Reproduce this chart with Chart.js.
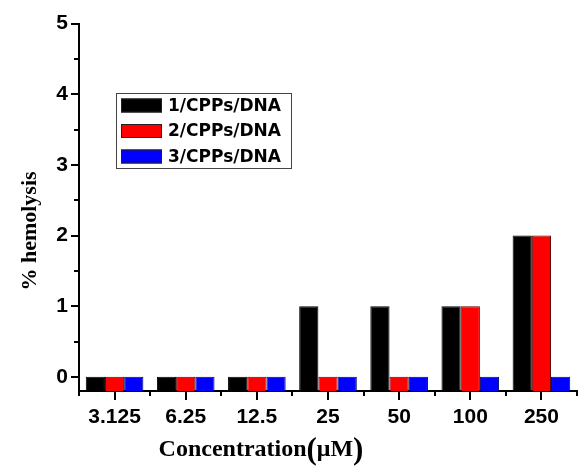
<!DOCTYPE html>
<html>
<head>
<meta charset="utf-8">
<script src="https://cdn.jsdelivr.net/npm/chart.js@4/dist/chart.umd.min.js"></script>
<style>
  body { margin: 0; background: #fff; }
  #wrap { width: 582px; height: 471px; }
</style>
</head>
<body>
<div id="wrap"><canvas id="hemo-chart"></canvas></div>
<script>
// concentrations (uM) and % hemolysis for each complex
var concentrations = ["3.125", "6.25", "12.5", "25", "50", "100", "250"];
var complex1 = [0, 0, 0, 1, 1, 1, 2];
var complex2 = [0, 0, 0, 0, 0, 1, 2];
var complex3 = [0, 0, 0, 0, 0, 0, 0];
var seriesNames = ["1/CPPs/DNA", "2/CPPs/DNA", "3/CPPs/DNA"];
var yTicks = [0, 1, 2, 3, 4, 5];

var yMin = -0.2;

// tick marks, axis titles and the boxed legend
var decorations = {
    id: 'decorations',
    afterDraw: function(chart) {
        var ctx = chart.ctx;
        var area = chart.chartArea;
        var x = chart.scales.x, y = chart.scales.y;
        ctx.save();
        ctx.strokeStyle = '#000';
        ctx.lineWidth = 2;
        ctx.beginPath();
        for (var v = 0; v <= 5; v += 0.5) {
            var py = Math.round(y.getPixelForValue(v));
            var len = (v % 1 === 0) ? 8 : 5;
            ctx.moveTo(area.left - len, py);
            ctx.lineTo(area.left, py);
        }
        for (var i = 0; i < concentrations.length; i++) {
            var px = Math.round(x.getPixelForValue(i));
            ctx.moveTo(px, area.bottom);
            ctx.lineTo(px, area.bottom + 9);
        }
        for (var j = 0; j <= concentrations.length; j++) {
            var bx = Math.round(x.getPixelForValue(j - 0.5));
            ctx.moveTo(bx, area.bottom);
            ctx.lineTo(bx, area.bottom + 5);
        }
        ctx.stroke();

        // y title
        ctx.fillStyle = '#000';
        ctx.textAlign = 'center';
        ctx.textBaseline = 'middle';
        ctx.font = 'bold 22px "Liberation Serif"';
        ctx.save();
        ctx.translate(30, 231);
        ctx.rotate(-Math.PI / 2);
        ctx.fillText('% hemolysis', 0, 0);
        ctx.restore();

        // x title, with taller brackets round the unit
        var parts = [['Concentration', 24], ['(', 31], ['\u03bcM', 24], [')', 31]];
        var total = 0;
        parts.forEach(function(p) {
            ctx.font = 'bold ' + p[1] + 'px "Liberation Serif"';
            total += ctx.measureText(p[0]).width;
        });
        var tx = 261 - total / 2;
        ctx.textAlign = 'left';
        ctx.textBaseline = 'alphabetic';
        parts.forEach(function(p) {
            ctx.font = 'bold ' + p[1] + 'px "Liberation Serif"';
            ctx.fillText(p[0], tx, p[1] > 24 ? 459 : 456);
            tx += ctx.measureText(p[0]).width;
        });

        // legend
        ctx.lineWidth = 1;
        ctx.strokeStyle = '#444';
        ctx.strokeRect(116.5, 93.5, 175, 75);
        ctx.font = 'bold 17px "DejaVu Sans"';
        ctx.textBaseline = 'middle';
        chart.data.datasets.forEach(function(ds, k) {
            var cy = 105.5 + k * 25.5;
            ctx.fillStyle = ds.backgroundColor;
            ctx.fillRect(121, cy - 7, 41, 14);
            ctx.strokeStyle = '#222';
            ctx.strokeRect(121.5, cy - 6.5, 40, 13);
            ctx.fillStyle = '#000';
            ctx.fillText(ds.label, 168, cy + 1);
        });
        ctx.restore();
    }
};

var ctx = document.getElementById('hemo-chart').getContext('2d');
var hemoChart = new Chart(ctx, {
    type: 'bar',
    data: {
        labels: concentrations,
        datasets: [{
            label: seriesNames[0],
            data: complex1,
            backgroundColor: '#000000',
            borderColor: '#000000'
        }, {
            label: seriesNames[1],
            data: complex2,
            backgroundColor: '#ff0000',
            borderColor: '#5a0000'
        }, {
            label: seriesNames[2],
            data: complex3,
            backgroundColor: '#0000ff',
            borderColor: '#000060'
        }]
    },
    options: {
        responsive: true,
        maintainAspectRatio: false,
        animation: false,
        layout: { padding: { top: 20, right: 5, left: 0, bottom: 0 } },
        datasets: {
            bar: {
                base: yMin,
                borderWidth: 1,
                categoryPercentage: 0.81,
                barPercentage: 1
            }
        },
        plugins: {
            legend: { display: false },
            tooltip: { enabled: false }
        },
        scales: {
            x: {
                grid: { display: false, drawTicks: false },
                border: { display: true, color: '#000', width: 2 },
                ticks: {
                    color: '#000',
                    padding: 14,
                    maxRotation: 0,
                    font: { family: 'Liberation Sans, Arial, sans-serif', weight: 'bold', size: 21 }
                },
                afterFit: function(s) { s.height = 80; }
            },
            y: {
                min: yMin,
                max: 5,
                grid: { display: false, drawTicks: false },
                border: { display: true, color: '#000', width: 2 },
                afterBuildTicks: function(s) {
                    s.ticks = yTicks.map(function(v) { return { value: v }; });
                },
                ticks: {
                    color: '#000',
                    padding: 11,
                    font: { family: 'Liberation Sans, Arial, sans-serif', weight: 'bold', size: 21 }
                },
                afterFit: function(s) { s.width = 79; }
            }
        }
    },
    plugins: [decorations]
});
</script>
</body>
</html>
